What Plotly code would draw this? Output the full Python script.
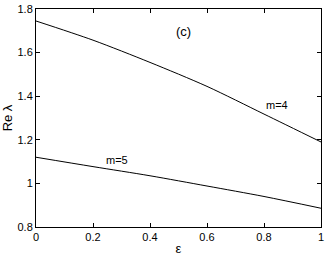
import plotly.graph_objects as go

eps = [0.0, 0.2, 0.4, 0.6, 0.8, 1.0]
re_m4 = [1.745, 1.657, 1.555, 1.445, 1.318, 1.19]
re_m5 = [1.12, 1.077, 1.035, 0.988, 0.94, 0.886]

x_ticks = [0, 0.2, 0.4, 0.6, 0.8, 1]
x_labels = ["0", "0.2", "0.4", "0.6", "0.8", "1"]
y_ticks = [0.8, 1, 1.2, 1.4, 1.6, 1.8]
y_labels = ["0.8", "1", "1.2", "1.4", "1.6", "1.8"]

FAM = "Liberation Sans, Arial, sans-serif"

fig = go.Figure()
for ys in (re_m4, re_m5):
    fig.add_trace(go.Scatter(x=eps, y=ys, mode="lines",
                             line=dict(color="black", width=1, shape="spline", smoothing=0.8),
                             showlegend=False))

font = dict(family=FAM, size=11, color="black")
annots = [
    dict(x=0.846, y=1.36, text="m=4", size=11),
    dict(x=0.285, y=1.107, text="m=5", size=11),
    dict(x=0.516, y=1.695, text="(c)", size=13),
]
for a in annots:
    fig.add_annotation(x=a["x"], y=a["y"], text=a["text"], showarrow=False,
                       font=dict(family=FAM, size=a["size"], color="black"),
                       xanchor="center", yanchor="middle")

axis_common = dict(showline=True, linecolor="black", linewidth=1, mirror="ticks", ticks="inside",
                   ticklen=4, tickcolor="black", showgrid=False, zeroline=False, tickfont=font)
fig.update_xaxes(range=[0, 1], tickvals=x_ticks, ticktext=x_labels,
                 title=dict(text="ε", font=dict(family=FAM, size=13, color="black"), standoff=2),
                 **axis_common)
fig.update_yaxes(range=[0.8, 1.8], tickvals=y_ticks, ticktext=y_labels,
                 title=dict(text="Re λ", font=dict(family=FAM, size=13, color="black"), standoff=4),
                 **axis_common)
fig.update_layout(width=327, height=256, margin=dict(l=36, r=6, t=9, b=29, autoexpand=False),
                  paper_bgcolor="white", plot_bgcolor="white")
fig.write_html("out.html", config={"displayModeBar": False},
               post_script="document.body.style.margin='0';document.body.style.overflow='hidden';")
